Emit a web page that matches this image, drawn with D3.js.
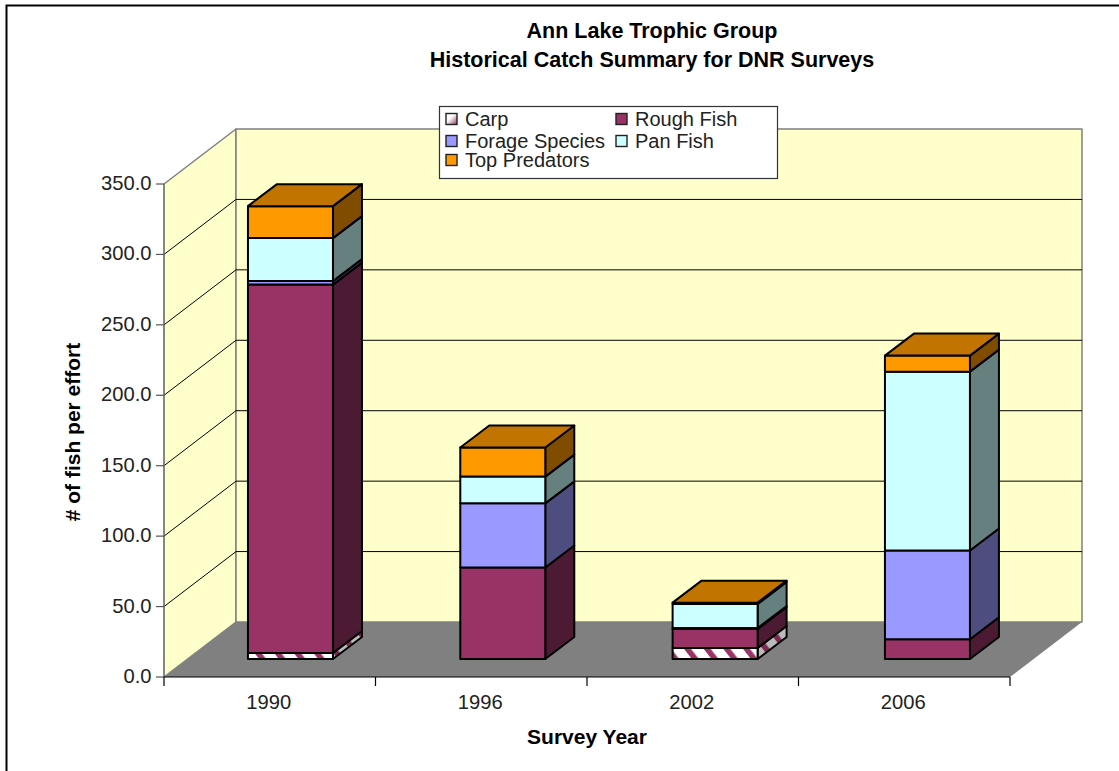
<!DOCTYPE html>
<html>
<head>
<meta charset="utf-8">
<title>Ann Lake Trophic Group</title>
<script src="https://d3js.org/d3.v7.min.js"></script>
<style>
    body { margin: 0; background: #fff; font-family: "Liberation Sans", Arial, sans-serif; }
    svg { display: block; }
    text { fill: #000; }
    .title { font-size: 21.5px; font-weight: bold; }
    .axis-title { font-size: 21px; font-weight: bold; }
    .tick-label { font-size: 20.2px; fill: #222; }
    .legend-label { font-size: 20px; fill: #222; }
</style>
</head>
<body>
<div id="chart"></div>
<script>
const years = ['1990', '1996', '2002', '2006'];
const seriesNames = ['Carp', 'Rough Fish', 'Forage Species', 'Pan Fish', 'Top Predators'];
const carp = [4.3, 0, 7.8, 0];
const roughFish = [261.5, 65, 13.5, 14];
const forageSpecies = [2.5, 45.5, 0.7, 63];
const panFish = [30.5, 19, 17, 127];
const topPredators = [22.7, 20.6, 1, 11.4];
const yTicks = [0, 50, 100, 150, 200, 250, 300, 350];

const fronts = ['url(#carpFront)', '#993366', '#9999ff', '#ccffff', '#ff9900'];
const sides = ['url(#carpSide)', '#4d1a33', '#4d4d80', '#668080', '#804d00'];
const tops = ['#80808080', '#7a2952', '#7a7acc', '#a3cccc', '#c27400'];

const width = 1119, height = 771;
const svg = d3.select('#chart').append('svg').attr('width', width).attr('height', height);

// hatch for the carp segments
const defs = svg.append('defs');
[['carpFront', '#fff', '#993366'], ['carpSide', '#bbb', '#7a2952']].forEach(([id, bg, fg]) => {
    const p = defs.append('pattern').attr('id', id).attr('patternUnits', 'userSpaceOnUse')
        .attr('width', 15.5).attr('height', 15.5).attr('patternTransform', 'rotate(-38)');
    p.append('rect').attr('width', 15.5).attr('height', 15.5).attr('fill', bg);
    p.append('rect').attr('width', 5.5).attr('height', 15.5).attr('fill', fg);
});

const x = d3.scaleBand().domain(years).range([164, 1010]);
const xBar = d3.scaleBand().domain(years).range([184.3, 1033.6]);
const y = d3.scaleLinear().domain([0, 350]).range([677, 184]);
const depth = [72, -55];       // front plane to back wall
const barBaseLift = -18;       // bars stand a little behind the front edge
const barDepth = [29, -22];
const barW = 85;

const poly = (g, pts, fill, stroke, sw) => g.append('polygon')
    .attr('points', pts.map(p => p.join(',')).join(' '))
    .attr('fill', fill).attr('stroke', stroke || 'none').attr('stroke-width', sw || 0)
    .attr('stroke-linejoin', 'round');

// outer frame
svg.append('path').attr('d', `M6.5,${height}V5.5H${width}`).attr('fill', 'none').attr('stroke', '#000').attr('stroke-width', 2);

// walls and floor
const walls = svg.append('g');
const [x0, x1] = x.range();
const yb = y(0), yt = y(350);
poly(walls, [[x0, yt], [x0 + depth[0], yt + depth[1]], [x0 + depth[0], yb + depth[1]], [x0, yb]], '#ffffcc', '#808080', 1.5);
poly(walls, [[x0 + depth[0], yt + depth[1]], [x1 + depth[0], yt + depth[1]], [x1 + depth[0], yb + depth[1]], [x0 + depth[0], yb + depth[1]]], '#ffffcc', '#808080', 1.5);
poly(walls, [[x0, yb], [x1, yb], [x1 + depth[0], yb + depth[1]], [x0 + depth[0], yb + depth[1]]], '#808080');

// gridlines on side and back wall
yTicks.slice(1, -1).forEach(t => {
    walls.append('polyline')
        .attr('points', `${x0},${y(t)} ${x0 + depth[0]},${y(t) + depth[1]} ${x1 + depth[0]},${y(t) + depth[1]}`)
        .attr('fill', 'none').attr('stroke', '#000').attr('stroke-width', 1);
});

// axes
const axes = svg.append('g').attr('stroke', '#000').attr('stroke-width', 1.2);
axes.append('line').attr('x1', x0).attr('x2', x0).attr('y1', yt).attr('y2', yb).attr('stroke', '#777');
axes.append('line').attr('x1', x0).attr('x2', x1).attr('y1', yb).attr('y2', yb);
yTicks.forEach(t => {
    axes.append('line').attr('x1', x0 - 8).attr('x2', x0).attr('y1', y(t)).attr('y2', y(t)).attr('stroke', '#555');
    svg.append('text').attr('class', 'tick-label').attr('x', x0 - 12.5).attr('y', y(t) + 6)
        .attr('text-anchor', 'end').text(t.toFixed(1));
});
[...years.map(d => x(d)), x1].forEach(v => {
    axes.append('line').attr('x1', v).attr('x2', v).attr('y1', yb).attr('y2', yb + 9);
});
years.forEach(d => {
    svg.append('text').attr('class', 'tick-label').attr('x', x(d) + x.bandwidth() / 2 - 1).attr('y', 709)
        .attr('text-anchor', 'middle').text(d);
});

// stacked bars
const table = years.map((d, i) => ({
    year: d, carp: carp[i], rough: roughFish[i], forage: forageSpecies[i], pan: panFish[i], top: topPredators[i]
}));
const stack = d3.stack().keys(['carp', 'rough', 'forage', 'pan', 'top'])(table);
const bars = svg.append('g');
stack.forEach((layer, s) => {
    layer.forEach(seg => {
        const [v0, v1] = seg;
        if (v1 - v0 <= 0) return;
        const l = xBar(seg.data.year) + (xBar.bandwidth() - barW) / 2;
        const r = l + barW;
        const by = y(v0) + barBaseLift, ty = y(v1) + barBaseLift;
        const [dx, dy] = barDepth;
        poly(bars, [[r, by], [r + dx, by + dy], [r + dx, ty + dy], [r, ty]], sides[s], '#000', 2);
        poly(bars, [[l, by], [r, by], [r, ty], [l, ty]], fronts[s], '#000', 2);
        if (s === stack.length - 1) {
            poly(bars, [[l, ty], [r, ty], [r + dx, ty + dy], [l + dx, ty + dy]], tops[s], '#000', 2);
        }
    });
});

// titles
svg.append('text').attr('class', 'title').attr('x', 652).attr('y', 38).attr('text-anchor', 'middle').text('Ann Lake Trophic Group');
svg.append('text').attr('class', 'title').attr('x', 652).attr('y', 67).attr('text-anchor', 'middle').text('Historical Catch Summary for DNR Surveys');
svg.append('text').attr('class', 'axis-title').attr('x', 587).attr('y', 744).attr('text-anchor', 'middle').text('Survey Year');
svg.append('text').attr('class', 'axis-title').attr('text-anchor', 'middle')
    .attr('transform', 'translate(80,432) rotate(-90)').text('# of fish per effort');

// legend
const legend = svg.append('g');
legend.append('rect').attr('x', 439.5).attr('y', 106.5).attr('width', 338).attr('height', 72)
    .attr('fill', '#fff').attr('stroke', '#333').attr('stroke-width', 1.2);
const legendPos = [[446, 119], [616, 119], [446, 141], [616, 141], [446, 160]];
seriesNames.forEach((name, i) => {
    const [lx, ly] = legendPos[i];
    legend.append('rect').attr('x', lx).attr('y', ly - 5.5).attr('width', 11).attr('height', 11)
        .attr('fill', i === 0 ? 'url(#carpLegend)' : fronts[i]).attr('stroke', '#222').attr('stroke-width', 1.4);
    legend.append('text').attr('class', 'legend-label').attr('x', lx + 19).attr('y', ly + 6.5).text(name);
});
const lg = defs.append('linearGradient').attr('id', 'carpLegend').attr('x1', 0).attr('y1', 0).attr('x2', 1).attr('y2', 1);
lg.append('stop').attr('offset', '0.4').attr('stop-color', '#fff');
lg.append('stop').attr('offset', '1').attr('stop-color', '#993366');
</script>
</body>
</html>
